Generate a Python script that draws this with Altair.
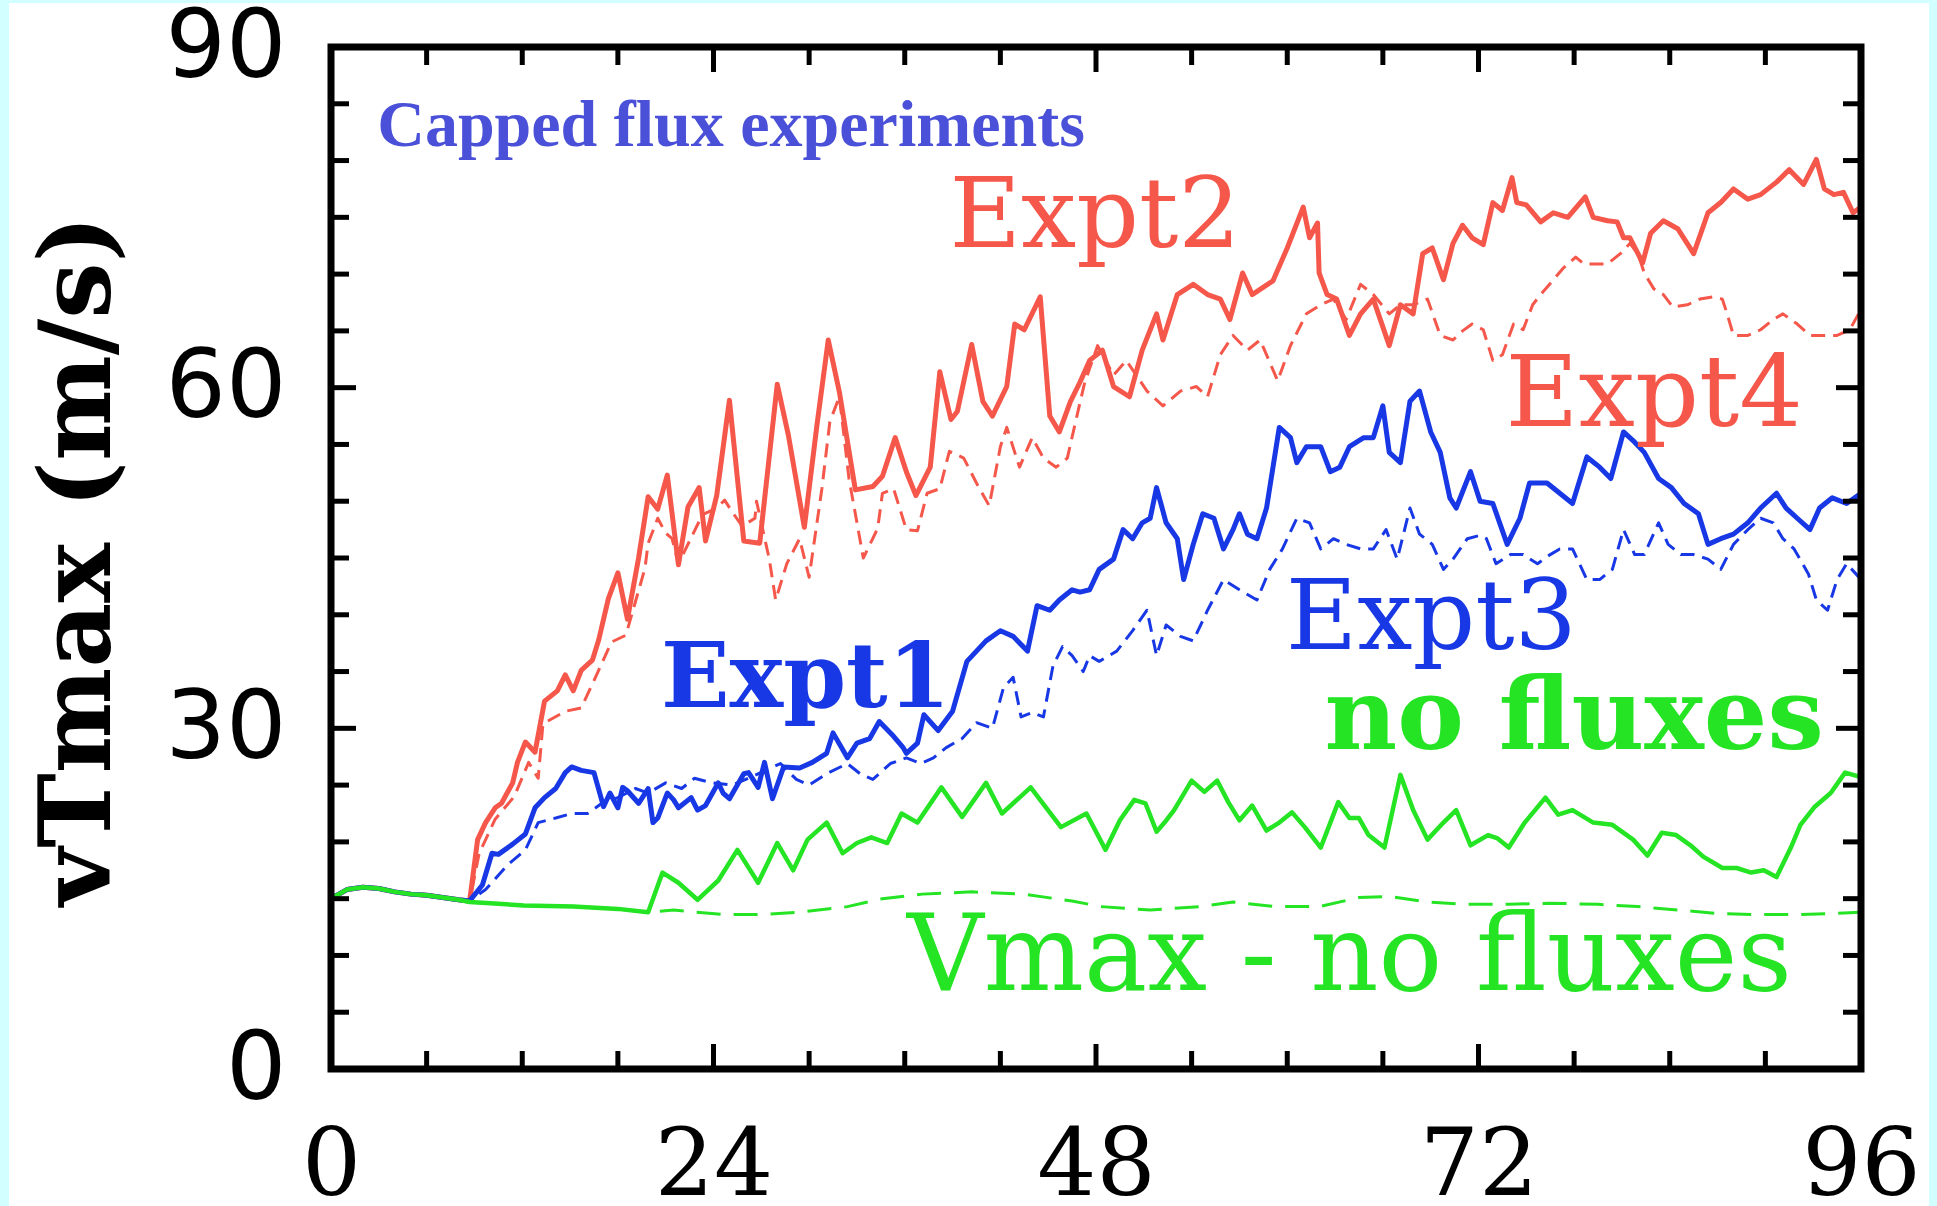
import altair as alt
import pandas as pd

# ---- time axis (hours) and peak tangential wind (m/s) for each run ----
expt2_hours = [0, 1, 2, 3, 4, 5, 6, 7, 8, 8.7, 9.2, 9.7, 10.3, 10.7, 11.4, 11.7, 12.2, 12.8,
               13.4, 14.2, 14.7, 15.2, 15.7, 16.4, 16.8, 17.4, 18.0, 18.6, 19.3, 19.9, 20.5,
               21.1, 21.8, 22.4, 23.1, 23.5, 24.2, 25.0, 25.9, 26.9, 28.0, 28.7, 29.7, 30.5,
               31.2, 31.9, 32.9, 34.0, 34.6, 35.4, 36.1, 36.7, 37.6, 38.2, 38.9, 39.3, 40.2,
               40.9, 41.5, 42.4, 42.9, 43.5, 44.5, 45.1, 45.7, 46.4, 47.0, 47.6, 48.4, 49.1,
               50.1, 50.9, 51.8, 52.2, 53.1, 54.1, 55.0, 55.8, 56.4, 57.2, 57.8, 59.1, 60.0,
               61.0, 61.4, 61.9, 62.0, 62.5, 63.1, 63.9, 64.6, 65.4, 66.4, 67.1, 67.9, 68.5,
               69.1, 69.8, 70.4, 71.0, 71.6, 72.3, 72.9, 73.5, 74.1, 74.4, 75.0, 75.9, 76.7,
               77.6, 78.7, 79.2, 80.1, 80.7, 81.1, 81.5, 82.3, 82.8, 83.6, 84.5, 85.5, 86.4,
               87.2, 88.0, 88.9, 89.7, 90.7, 91.5, 92.4, 93.2, 93.7, 94.3, 94.9, 95.5, 96.0]
expt2_speed = [15.0, 15.8, 16.0, 15.9, 15.6, 15.4, 15.3, 15.1, 14.9, 14.8, 20.2, 21.7, 23.0, 23.4,
               25.2, 27.0, 28.8, 27.9, 32.4, 33.3, 34.7, 33.3, 35.1, 36.0, 37.8, 41.4, 43.7,
               39.6, 45.0, 50.4, 49.3, 52.3, 44.4, 49.5, 51.2, 46.5, 50.5, 58.9, 46.5, 46.3,
               60.3, 55.8, 47.7, 56.8, 64.2, 59.6, 51.0, 51.3, 52.2, 55.6, 52.6, 50.5, 53.0,
               61.4, 57.2, 57.9, 63.8, 58.8, 57.5, 60.1, 65.6, 65.1, 68.0, 57.5, 56.1, 58.8,
               60.5, 62.4, 63.3, 60.1, 59.2, 63.3, 66.5, 64.2, 68.2, 69.1, 68.2, 67.8, 66.0,
               70.1, 68.2, 69.4, 72.3, 75.9, 73.2, 74.5, 70.1, 68.2, 67.8, 64.6, 66.5, 67.8,
               63.7, 67.3, 66.5, 71.8, 72.3, 69.5, 72.7, 74.3, 73.2, 72.6, 76.3, 75.6, 78.5,
               76.3, 76.1, 74.6, 75.4, 75.0, 76.8, 75.0, 74.7, 74.6, 73.2, 73.2, 71.0, 73.6,
               74.7, 74.0, 71.8, 75.4, 76.3, 77.5, 76.6, 77.0, 78.1, 79.2, 77.9, 80.1, 77.5,
               77.0, 77.2, 75.4, 75.9]

expt4_hours = [0, 1, 2, 3, 4, 5, 6, 7, 8, 8.7, 9.3, 10.3, 11.5, 12.4, 13.0, 13.3, 14.7, 15.7,
               16.6, 17.6, 18.5, 19.7, 19.9, 20.5, 21.0, 21.4, 21.8, 23.3, 24.2, 24.7, 25.2,
               25.8, 26.6, 26.7, 27.5, 27.9, 28.6, 29.4, 30.0, 30.8, 31.3, 31.9, 32.5, 33.4,
               34.3, 34.6, 35.3, 36.1, 36.8, 37.4, 38.2, 38.8, 39.7, 40.5, 41.3, 42.0, 42.4,
               43.2, 44.0, 44.7, 45.5, 46.2, 46.8, 47.3, 48.1, 49.1, 49.9, 51.2, 52.2, 53.3,
               54.3, 55.0, 55.8, 56.6, 57.5, 58.3, 59.4, 60.2, 61.2, 62.1, 62.9, 63.7, 64.6,
               65.4, 66.4, 67.1, 67.9, 68.8, 69.6, 70.4, 71.0, 71.6, 72.3, 72.9, 73.5, 74.2,
               74.8, 75.4, 75.9, 76.7, 77.3, 78.1, 78.6, 79.5, 80.1, 80.9, 81.5, 82.0, 82.4,
               83.0, 83.6, 84.2, 85.1, 85.9, 86.7, 87.3, 87.6, 88.0, 88.9, 89.7, 90.5, 91.1,
               92.0, 92.8, 93.6, 94.5, 95.3, 96.0]
expt4_speed = [15.0, 15.8, 16.0, 15.9, 15.6, 15.4, 15.3, 15.1, 14.9, 14.8, 19.0, 22.0, 24.0, 27.0,
               25.6, 30.4, 31.5, 31.8, 34.5, 37.6, 38.2, 44.1, 46.3, 48.5, 47.2, 46.7, 44.5,
               48.8, 49.4, 50.1, 49.0, 47.8, 48.5, 50.0, 44.9, 41.3, 44.5, 46.7, 43.3, 51.1,
               57.0, 59.2, 52.0, 45.0, 47.6, 50.7, 51.1, 47.5, 47.4, 50.7, 51.1, 54.4, 53.8,
               51.6, 49.6, 54.8, 56.5, 53.0, 55.6, 53.8, 53.0, 53.8, 57.5, 60.5, 63.7, 61.1,
               62.4, 59.7, 58.4, 59.7, 60.1, 59.2, 62.9, 64.6, 63.3, 64.2, 60.6, 63.7, 66.5,
               67.3, 67.8, 66.0, 69.1, 68.2, 66.5, 67.3, 67.3, 67.8, 64.6, 64.2, 65.0, 65.6,
               65.1, 62.4, 62.9, 65.6, 65.1, 67.3, 68.2, 69.5, 70.5, 71.5, 70.9, 70.9, 70.9,
               71.8, 72.7, 71.8, 70.1, 68.7, 68.2, 67.1, 67.3, 67.8, 68.0, 67.8, 66.5, 64.6,
               64.6, 65.1, 66.0, 66.5, 65.6, 64.6, 64.6, 64.6, 65.1, 66.9]

expt1_hours = [0, 1, 2, 3, 4, 5, 6, 7, 8, 8.7, 9.5, 10.1, 10.5, 11.4, 12.2, 12.8, 13.4, 14.1,
               14.7, 15.1, 15.7, 16.5, 17.1, 17.5, 18.0, 18.3, 18.6, 19.3, 19.9, 20.2, 20.5,
               21.1, 21.5, 21.8, 22.6, 23.0, 23.5, 24.3, 24.6, 25.0, 25.9, 26.2, 26.8, 27.2,
               27.7, 28.4, 29.4, 30.2, 31.1, 31.5, 32.4, 33.0, 33.8, 34.4, 35.3, 35.9, 36.1,
               36.8, 37.2, 38.1, 39.0, 39.9, 40.5, 41.1, 42.0, 42.8, 43.7, 44.3, 45.1, 45.7,
               46.5, 47.0, 47.6, 48.2, 49.1, 49.7, 50.3, 50.9, 51.4, 51.8, 52.4, 53.1, 53.5,
               54.1, 54.7, 55.4, 56.0, 56.6, 57.0, 57.5, 58.1, 58.7, 59.5, 60.2, 60.6, 61.2,
               62.1, 62.7, 63.3, 63.9, 64.8, 65.4, 66.0, 66.4, 67.1, 67.7, 68.3, 69.0, 69.6,
               70.2, 70.6, 71.5, 72.1, 72.9, 73.8, 74.6, 75.2, 76.3, 77.1, 77.9, 78.8, 79.6,
               80.3, 81.1, 81.8, 82.4, 83.3, 84.1, 84.9, 85.8, 86.4, 87.2, 88.0, 88.9, 89.7,
               90.7, 91.3, 92.0, 92.8, 93.4, 94.2, 95.1, 96.0]
expt1_speed = [15.0, 15.8, 16.0, 15.9, 15.6, 15.4, 15.3, 15.1, 14.9, 14.8, 16.2, 19.0, 18.9, 19.8,
               20.7, 23.0, 23.9, 24.7, 26.1, 26.6, 26.3, 26.1, 23.1, 24.3, 23.0, 24.8, 24.5,
               23.4, 24.7, 21.7, 22.1, 24.3, 23.7, 23.0, 23.9, 22.8, 23.2, 25.2, 24.3, 23.8,
               26.0, 26.1, 24.8, 27.0, 23.8, 26.6, 26.5, 27.0, 27.8, 29.6, 27.4, 28.7, 29.1,
               30.6, 29.3, 28.3, 27.8, 28.7, 31.2, 29.8, 31.5, 35.9, 36.8, 37.7, 38.6, 38.1,
               36.8, 40.8, 40.4, 41.3, 42.2, 42.0, 42.2, 44.0, 44.9, 47.5, 46.7, 48.1, 48.5,
               51.2, 48.1, 46.7, 43.1, 46.2, 48.9, 48.5, 45.8, 47.5, 48.9, 47.1, 46.7, 49.4,
               56.5, 55.6, 53.4, 54.8, 54.8, 52.6, 53.0, 54.8, 55.6, 55.6, 58.4, 54.3, 53.4,
               58.8, 59.7, 56.1, 54.3, 50.3, 49.4, 52.6, 50.0, 49.8, 46.2, 48.5, 51.6, 51.6,
               50.7, 49.8, 53.9, 53.0, 52.0, 56.1, 55.2, 54.3, 52.0, 51.2, 49.8, 48.9, 46.2,
               46.7, 47.1, 48.1, 49.4, 50.7, 49.4, 48.5, 47.5, 49.4, 50.3, 49.8, 50.7]

expt3_hours = [0, 1, 2, 3, 4, 5, 6, 7, 8, 8.7, 9.7, 11.1, 12.2, 13.0, 14.1, 15.1, 16.1, 17.0,
               18.0, 19.1, 19.9, 21.0, 22.0, 22.8, 23.9, 25.2, 26.5, 28.2, 29.2, 30.0, 31.1,
               32.4, 33.2, 34.0, 35.1, 36.1, 37.0, 37.8, 38.6, 39.6, 40.5, 41.5, 42.2, 42.8,
               43.3, 44.0, 44.7, 45.3, 45.9, 46.5, 47.2, 47.6, 48.2, 49.3, 50.3, 51.2, 51.8,
               52.4, 53.3, 54.1, 55.0, 56.0, 57.0, 58.1, 58.9, 59.7, 60.6, 61.4, 62.1, 62.9,
               63.7, 64.6, 65.4, 66.2, 66.9, 67.7, 68.3, 69.1, 69.8, 70.4, 71.3, 72.1, 72.5,
               73.1, 74.0, 74.8, 75.7, 76.5, 77.1, 77.9, 78.8, 79.6, 80.4, 81.1, 81.8, 82.4,
               83.3, 83.9, 84.7, 85.5, 86.4, 87.2, 88.0, 88.9, 89.7, 90.5, 91.1, 91.8, 92.7,
               93.2, 93.9, 94.5, 95.1, 96.0]
expt3_speed = [15.0, 15.8, 16.0, 15.9, 15.6, 15.4, 15.3, 15.1, 14.9, 14.8, 15.8, 18.0, 19.3, 21.7,
               22.1, 22.5, 22.5, 23.4, 23.9, 24.7, 24.3, 25.2, 24.7, 25.6, 25.2, 25.0, 25.8,
               26.9, 25.5, 25.0, 26.0, 26.9, 26.0, 25.5, 26.9, 27.4, 26.9, 27.4, 28.3, 29.1,
               30.5, 30.0, 33.6, 34.5, 31.0, 31.4, 31.0, 35.5, 37.2, 36.4, 35.0, 36.4, 35.9,
               36.8, 38.6, 40.4, 36.4, 39.1, 38.1, 37.7, 40.4, 43.1, 42.2, 41.3, 44.0, 45.8,
               48.5, 48.1, 45.8, 46.7, 46.2, 45.8, 45.8, 47.5, 44.9, 49.4, 47.1, 46.2, 44.0,
               44.9, 46.7, 47.0, 46.7, 44.5, 45.3, 45.3, 44.5, 45.3, 45.8, 45.8, 43.1, 43.1,
               44.0, 47.5, 45.3, 45.3, 48.1, 46.2, 45.3, 45.3, 44.9, 44.0, 46.2, 47.5, 48.5,
               48.1, 46.7, 45.8, 43.6, 41.3, 40.4, 43.1, 44.5, 43.1]

nofluxes_hours = [0, 1, 2, 3, 4, 5, 6, 7, 8, 8.7, 10.0, 12.1, 15.2, 18.0, 19.9, 20.8, 21.8,
                  23.0, 24.3, 25.5, 26.8, 28.0, 29.0, 29.9, 31.1, 32.1, 33.0, 33.9, 34.9, 35.8,
                  36.8, 38.3, 39.6, 41.1, 42.1, 43.9, 45.8, 47.4, 48.6, 49.5, 50.4, 51.1, 51.8,
                  52.3, 52.9, 54.0, 54.8, 55.6, 56.3, 57.0, 57.8, 58.7, 59.5, 60.3, 61.1, 62.1,
                  63.2, 63.9, 64.5, 65.1, 66.1, 67.1, 67.9, 68.8, 69.8, 70.6, 71.5, 72.6, 73.2,
                  73.9, 74.9, 76.2, 77.0, 77.9, 79.2, 80.4, 81.7, 82.6, 83.5, 84.4, 85.3, 86.1,
                  87.3, 88.2, 89.1, 89.9, 90.7, 91.6, 92.2, 93.1, 94.1, 95.0, 96.0]
nofluxes_speed = [15.0, 15.8, 16.0, 15.9, 15.6, 15.4, 15.3, 15.1, 14.9, 14.7, 14.6, 14.4, 14.3,
                  14.1, 13.8, 17.3, 16.4, 14.9, 16.6, 19.3, 16.4, 19.9, 17.5, 20.2, 21.7, 19.0,
                  19.9, 20.4, 19.9, 22.5, 21.7, 24.8, 22.2, 25.2, 22.5, 24.8, 21.3, 22.5, 19.3,
                  21.9, 23.7, 23.4, 20.9, 21.7, 22.8, 25.4, 24.4, 25.4, 23.5, 21.9, 23.2, 21.0,
                  21.7, 22.6, 21.3, 19.5, 23.5, 22.1, 22.1, 20.6, 19.5, 25.9, 22.8, 20.2, 21.7,
                  22.8, 19.7, 20.6, 20.3, 19.5, 21.7, 23.9, 22.4, 22.8, 21.7, 21.5, 20.2, 18.8,
                  20.8, 20.6, 19.7, 18.7, 17.7, 17.7, 17.3, 17.5, 16.9, 19.5, 21.5, 23.1, 24.3,
                  26.1, 25.7]

vmax_hours = [0, 1, 2, 3, 4, 5, 6, 7, 8, 8.7, 10.0, 12.1, 15.2, 18.0, 19.9, 21.5, 24.6, 27.0,
              29.3, 32.4, 34.6, 37.1, 40.2, 43.4, 46.5, 48.3, 51.4, 54.5, 56.6, 59.2, 62.0,
              64.5, 66.4, 68.8, 71.3, 73.9, 76.4, 79.5, 82.0, 84.5, 87.0, 89.5, 92.0, 94.4, 96.0]
vmax_speed = [15.0, 15.8, 16.0, 15.9, 15.6, 15.4, 15.3, 15.1, 14.9, 14.7, 14.6, 14.4, 14.3, 14.1,
              13.8, 14.0, 13.6, 13.6, 13.8, 14.3, 15.0, 15.4, 15.6, 15.4, 14.8, 14.3, 14.0,
              14.3, 14.7, 14.3, 14.3, 15.1, 15.2, 14.7, 14.5, 14.5, 14.6, 14.5, 14.3, 14.0,
              13.7, 13.6, 13.6, 13.7, 13.8]

# axis tick positions
x_label_values = [0, 24, 48, 72, 96]
y_label_values = [0, 30, 60, 90]
x_minor_ticks = [6, 12, 18, 30, 36, 42, 54, 60, 66, 78, 84, 90]
x_major_ticks = [24, 48, 72]
y_minor_ticks = [5, 10, 15, 20, 25, 35, 40, 45, 50, 55, 65, 70, 75, 80, 85]
y_major_ticks = [30, 60]

# ---- styling ----
RED = "#f5574b"
BLUE = "#1838e6"
GREEN = "#24e424"
TITLE_BLUE = "#4a50d8"
PANEL_BG = "#d2ffff"
SERIF = "DejaVu Serif"

W, H = 1530, 1022
MAJOR_LEN, MINOR_LEN = 25, 18

x_scale = alt.Scale(domain=[0, 96], nice=False, zero=False)
y_scale = alt.Scale(domain=[0, 90], nice=False, zero=False)


def series(hours, speed):
    return pd.DataFrame({"hour": hours, "speed": speed})


def line(df, color, width, dash=None):
    kwargs = dict(color=color, strokeWidth=width, clip=True, strokeJoin="round")
    if dash is not None:
        kwargs["strokeDash"] = dash
    return alt.Chart(df).mark_line(**kwargs).encode(
        x=alt.X("hour:Q", scale=x_scale, axis=None),
        y=alt.Y("speed:Q", scale=y_scale, axis=None),
    )


# white panel behind everything
panel = alt.Chart(pd.DataFrame({"p": [0]})).mark_rect(fill="white").encode(
    x=alt.value(-322), x2=alt.value(1598), y=alt.value(-44), y2=alt.value(1170))

# layer carrying the axis labels and the y-axis title (no visible marks of its own)
axes_layer = alt.Chart(pd.DataFrame({"hour": [0, 96], "speed": [0, 90]})).mark_point(
    opacity=0
).encode(
    x=alt.X("hour:Q", scale=x_scale, axis=alt.Axis(
        values=x_label_values, title=None, grid=False, domain=False, ticks=False,
        labelFont=SERIF, labelFontSize=93, labelColor="black",
        labelPadding=52, labelFlush=False, zindex=2)),
    y=alt.Y("speed:Q", scale=y_scale, axis=alt.Axis(
        values=y_label_values, title="vTmax (m/s)", grid=False, domain=False, ticks=False,
        labelFont="DejaVu Sans", labelFontSize=95, labelColor="black",
        labelPadding=45, labelFlush=False, zindex=2,
        titleFont=SERIF, titleFontSize=100, titleFontWeight="bold",
        titleColor="black", titleAngle=270, titleAlign="center",
        titleBaseline="middle", titleX=-252, titleY=513)),
)

lines = [
    line(series(expt4_hours, expt4_speed), RED, 3.0, [14, 8]),
    line(series(expt2_hours, expt2_speed), RED, 5.0),
    line(series(expt3_hours, expt3_speed), BLUE, 3.0, [14, 8]),
    line(series(expt1_hours, expt1_speed), BLUE, 5.0),
    line(series(vmax_hours, vmax_speed), GREEN, 3.0, [24, 13]),
    line(series(nofluxes_hours, nofluxes_speed), GREEN, 4.5),
]

# annotation labels, anchored in data units (baseline)
labels = pd.DataFrame({
    "text": ["Expt2", "Expt4", "Expt1", "Expt3", "no fluxes", "Vmax - no fluxes"],
    "hour": [38.8, 73.7, 20.7, 59.9, 78.0, 63.9],
    "speed": [72.4, 56.6, 31.9, 37.0, 28.2, 7.0],
    "color": [RED, RED, BLUE, BLUE, GREEN, GREEN],
    "weight": ["normal", "normal", "bold", "normal", "bold", "normal"],
    "size": [98, 100, 90, 98, 100, 106],
    "align": ["left", "left", "left", "left", "center", "center"],
})

text_layers = []
for _, row in labels.iterrows():
    text_layers.append(
        alt.Chart(pd.DataFrame([row])).mark_text(
            align=row["align"], baseline="alphabetic", font=SERIF,
            fontSize=int(row["size"]), fontWeight=row["weight"], color=row["color"]
        ).encode(
            x=alt.X("hour:Q", scale=x_scale, axis=None),
            y=alt.Y("speed:Q", scale=y_scale, axis=None),
            text="text:N",
        )
    )

headline = alt.Chart(pd.DataFrame({"text": ["Capped flux experiments"], "hour": [2.9],
                                   "speed": [81.3]})).mark_text(
    align="left", baseline="alphabetic", font="Liberation Serif", fontSize=66,
    fontWeight="bold", color=TITLE_BLUE
).encode(
    x=alt.X("hour:Q", scale=x_scale, axis=None),
    y=alt.Y("speed:Q", scale=y_scale, axis=None),
    text="text:N",
)


# inward-pointing tick marks on all four sides
def y_ticks(values, length):
    df = pd.DataFrame({"speed": values})
    enc_y = alt.Y("speed:Q", scale=y_scale, axis=None)
    left = alt.Chart(df).mark_rule(color="black", strokeWidth=5).encode(
        y=enc_y, x=alt.value(0), x2=alt.value(length))
    right = alt.Chart(df).mark_rule(color="black", strokeWidth=5).encode(
        y=enc_y, x=alt.value(W - length), x2=alt.value(W))
    return [left, right]


def x_ticks(values, length):
    df = pd.DataFrame({"hour": values})
    enc_x = alt.X("hour:Q", scale=x_scale, axis=None)
    bottom = alt.Chart(df).mark_rule(color="black", strokeWidth=5).encode(
        x=enc_x, y=alt.value(H - length), y2=alt.value(H))
    top = alt.Chart(df).mark_rule(color="black", strokeWidth=5).encode(
        x=enc_x, y=alt.value(0), y2=alt.value(length))
    return [bottom, top]


ticks = (y_ticks(y_minor_ticks, MINOR_LEN) + y_ticks(y_major_ticks, MAJOR_LEN)
         + x_ticks(x_minor_ticks, MINOR_LEN) + x_ticks(x_major_ticks, MAJOR_LEN))

frame = alt.Chart(pd.DataFrame({"p": [0]})).mark_rect(
    filled=False, stroke="black", strokeWidth=7
).encode(x=alt.value(0), x2=alt.value(W), y=alt.value(0), y2=alt.value(H))

chart = alt.layer(
    panel, axes_layer, *lines, *text_layers, headline, *ticks, frame
).resolve_axis(
    x="independent", y="independent"
).properties(
    width=W, height=H,
    background=PANEL_BG,
    padding={"left": 331, "top": 47, "right": 76, "bottom": 137},
    autosize=alt.AutoSizeParams(type="none"),
).configure_view(strokeWidth=0)

chart.save("out.html", embed_options={"renderer": "svg", "actions": False})
